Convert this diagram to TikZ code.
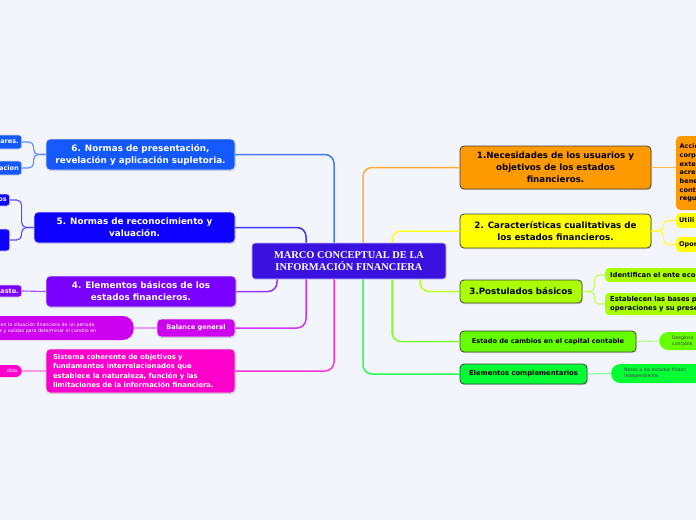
\documentclass[tikz,border=0pt]{standalone}
\usepackage{fontspec}
\setmainfont{DejaVu Sans}
\newfontfamily\ctrfont{Liberation Serif}
\usetikzlibrary{shadows}
\definecolor{bgc}{HTML}{F3F5FD}
\definecolor{ctrc}{HTML}{3A12DF}
\definecolor{ca}{HTML}{FF9900}
\definecolor{cb}{HTML}{FFFF00}
\definecolor{cc}{HTML}{AAFF00}
\definecolor{cd}{HTML}{66FF00}
\definecolor{ce}{HTML}{00FF33}
\definecolor{cf}{HTML}{1458FF}
\definecolor{cg}{HTML}{0E00FF}
\definecolor{ch}{HTML}{7A00FF}
\definecolor{ci}{HTML}{CC00EE}
\definecolor{cj}{HTML}{FF00CC}
\begin{document}
\begin{tikzpicture}[x=1pt,y=-1pt,
  shd/.style={drop shadow={opacity=0.25,shadow xshift=0.8pt,shadow yshift=-1.2pt}},
  topicR/.style={draw=black!75,line width=0.8pt,rounded corners=4pt,text=black,inner sep=0pt,align=center,shd,
     font=\bfseries\fontsize{8.7}{11.8}\selectfont},
  topicL/.style={draw=white!75!gray,line width=0.8pt,rounded corners=4pt,text=white,inner sep=0pt,align=center,shd,
     font=\bfseries\fontsize{8.8}{12}\selectfont},
  childR/.style={rounded corners=4pt,text=black,anchor=west,inner ysep=0pt,align=left,
     font=\bfseries\fontsize{6.5}{8.7}\selectfont},
  childL/.style={draw=white!70!gray,line width=0.6pt,rounded corners=3pt,text=white,anchor=east,inner ysep=0pt,
     text width=40pt,inner xsep=3pt,align=right,font=\bfseries\fontsize{6.5}{8}\selectfont},
  tiny/.style={font=\fontsize{4.7}{6.2}\selectfont},
  cline/.style={line width=1.5pt,rounded corners=9pt},
  kline/.style={line width=1.1pt,rounded corners=5pt}]
\useasboundingbox (0,0) rectangle (696,520);
\fill[bgc] (0,0) rectangle (696,520);
\clip (0,0) rectangle (696,520);

% centre
\node[fill=ctrc,draw=ctrc!30!white,line width=0.8pt,rounded corners=3pt,minimum width=194pt,minimum height=36pt,
  inner sep=0pt,align=center,text=white,font=\ctrfont\bfseries\fontsize{10.4}{12}\selectfont] (ctr) at (349,261)
  {MARCO CONCEPTUAL DE LA\\INFORMACIÓN FINANCIERA};

% right topics
\node[topicR,fill=ca,minimum width=191pt,minimum height=43pt] (n1) at (555.5,167.5)
  {1.Necesidades de los usuarios y\\objetivos de los estados\\financieros.};
\node[topicR,fill=cb,minimum width=191pt,minimum height=34pt] (n2) at (555.5,231)
  {2. Características cualitativas de\\los estados financieros.};
\node[topicR,fill=cc,minimum width=122pt,minimum height=23pt] (n3) at (521,291.5)
  {3.Postulados básicos};
\node[topicR,fill=cd,minimum width=176pt,minimum height=21pt,font=\bfseries\fontsize{6.6}{8}\selectfont] (n4) at (548,341.5)
  {Estado de cambios en el capital contable};
\node[topicR,fill=ce,minimum width=127pt,minimum height=20pt,font=\bfseries\fontsize{6.8}{8}\selectfont] (n5) at (523.5,374)
  {Elementos complementarios};

% right children
\node[childR,fill=ca,text width=70pt,inner xsep=3.5pt,minimum height=74pt] (n1c) at (676,173)
  {Accio\\corpo\\exte\\acre\\bene\\cont\\regu};
\node[childR,fill=cb,text width=40pt,inner xsep=3pt,minimum height=15pt] (n2a) at (676,220.5) {Utili};
\node[childR,fill=cb,text width=40pt,inner xsep=3pt,minimum height=15pt] (n2b) at (676,244.5) {Opor};
\node[childR,fill=cc,text width=110pt,inner xsep=5pt,minimum height=14pt,font=\bfseries\fontsize{6.8}{8.7}\selectfont] (n3a) at (605,275) {Identifican el ente eco};
\node[childR,fill=cc,text width=110pt,inner xsep=5pt,minimum height=22pt,font=\bfseries\fontsize{6.8}{8.7}\selectfont] (n3b) at (605,304)
  {Establecen las bases p\\operaciones y su prese};
\node[childR,fill=cd,rounded corners=9pt,text width=60pt,inner xsep=13pt,minimum height=18pt,tiny,text=black!75] (n4c) at (659,341)
  {Desglosa\\contable};
\node[childR,fill=ce,rounded corners=9pt,text width=90pt,inner xsep=13pt,minimum height=19pt,tiny,text=black!75] (n5c) at (611,373.5)
  {Notas a los estados financ\\independiente.};

% left topics
\node[topicL,fill=cf,minimum width=189pt,minimum height=31pt] (L6) at (140.5,154.5)
  {6. Normas de presentación,\\revelación y aplicación supletoria.};
\node[topicL,fill=cg,minimum width=201pt,minimum height=31pt] (L5) at (134.5,227.5)
  {5. Normas de reconocimiento y\\valuación.};
\node[topicL,fill=ch,minimum width=190pt,minimum height=31pt] (L4) at (141,291.5)
  {4. Elementos básicos de los\\estados financieros.};
\node[topicL,fill=ci,minimum width=78pt,minimum height=18pt,font=\bfseries\fontsize{6.5}{8}\selectfont] (LB) at (196,328)
  {Balance general};
\node[topicL,fill=cj,minimum width=189pt,minimum height=44pt,text width=175pt,align=left,
  font=\bfseries\fontsize{6.9}{9.2}\selectfont] (LS) at (140.5,371)
  {Sistema coherente de objetivos y\\fundamentos interrelacionados que\\establece la naturaleza, función y las\\limitaciones de la información financiera.};

% left children
\node[childL,fill=cf,minimum height=14pt] (L6a) at (22,142) {ares.};
\node[childL,fill=cf,minimum height=14pt] (L6b) at (22,168) {acion};
\node[childL,fill=cg,minimum height=12pt] (L5a) at (10,200) {os};
\node[childL,fill=cg,minimum height=22pt] (L5b) at (10,240) {};
\node[childL,fill=ch,minimum height=12pt] (L4a) at (22,291) {asto.};
\node[childL,fill=ci,draw=none,rounded corners=11pt,minimum width=158pt,text width=116pt,align=left,minimum height=24pt,tiny] (LBa) at (134,328)
  {s en la situación financiera de un periodo\\as y salidas para determinar el cambio en};
\node[childL,fill=cj,draw=none,rounded corners=6pt,minimum height=12pt,font=\fontsize{4.8}{6}\selectfont] (LSa) at (22,371) {dida.};

% centre connectors
\draw[cline,draw=ca!80!white] ([xshift=14pt]ctr.north) |- (n1.west);
\draw[cline,draw=cb!85!white] ([xshift=43pt]ctr.north) |- (n2.west);
\draw[cline,draw=cc!85!white] ([xshift=71pt]ctr.south) |- (n3.west);
\draw[cline,draw=cd!85!white] ([xshift=43pt]ctr.south) |- (n4.west);
\draw[cline,draw=ce!85!white] ([xshift=14pt]ctr.south) |- (n5.west);
\draw[cline,draw=cf!80!white] ([xshift=-15pt]ctr.north) |- (L6.east);
\draw[cline,draw=cg!80!white] ([xshift=-43pt]ctr.north) |- (L5.east);
\draw[cline,draw=ch!80!white] ([xshift=-72pt]ctr.south) |- (L4.east);
\draw[cline,draw=ci!80!white] ([xshift=-43pt]ctr.south) |- (LB.east);
\draw[cline,draw=cj!80!white] ([xshift=-15pt]ctr.south) |- (LS.east);

% child connectors
\draw[kline,draw=ca!70!white] (n1.east) -- (n1.east -| n1c.west);
\draw[kline,draw=cb!80!white] (n2.east) -- ++(12,0) |- (n2a.west);
\draw[kline,draw=cb!80!white] (n2.east) -- ++(12,0) |- (n2b.west);
\draw[kline,draw=cc!70!white] (n3.east) -- ++(12,0) |- (n3a.west);
\draw[kline,draw=cc!70!white] (n3.east) -- ++(12,0) |- (n3b.west);
\draw[kline,draw=cd!50!white] (n4.east) -- (n4c.west);
\draw[kline,draw=ce!50!white] (n5.east) -- (n5c.west);
\draw[kline,draw=cf!70!white] (L6.west) -- ++(-12,0) |- (L6a.east);
\draw[kline,draw=cf!70!white] (L6.west) -- ++(-12,0) |- (L6b.east);
\draw[kline,draw=cg!70!white] (L5.west) -- ++(-12,0) |- (L5a.east);
\draw[kline,draw=cg!70!white] (L5.west) -- ++(-12,0) |- (L5b.east);
\draw[kline,draw=ch!70!white] (L4.west) -- (L4a.east);
\draw[kline,draw=ci!40!white] (LB.west) -- (LBa.east);
\draw[kline,draw=cj!40!white] (LS.west) -- (LSa.east);
\end{tikzpicture}
\end{document}
